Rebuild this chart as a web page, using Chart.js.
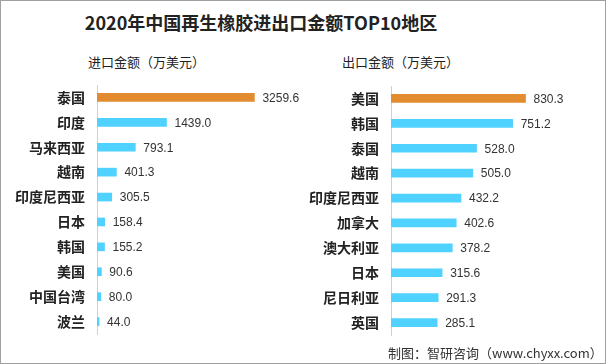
<!DOCTYPE html>
<html>
<head>
<meta charset="utf-8">
<script src="https://cdn.jsdelivr.net/npm/chart.js@4"></script>
<style>
  body { margin: 0; background: #fff; }
  #box {
    position: relative; width: 604px; height: 362px;
    border: 1px solid #a0a0a0; background: #fff; overflow: hidden;
    font-family: "Noto Sans CJK SC", "Noto Sans", sans-serif;
  }
  .txt { position: absolute; white-space: nowrap; color: #222; }
  #titulo { left: 0; width: 520px; top: 9px; text-align: center; font-size: 18px; font-weight: bold; line-height: 24px; }
  #sub1 { left: 87px; top: 51px; font-size: 13px; line-height: 20px; }
  #sub2 { left: 341px; top: 51px; font-size: 13px; line-height: 20px; }
  #fonte { left: 387px; top: 342px; font-size: 13px; line-height: 20px; color: #333; }
  canvas { position: absolute; top: 0; }
</style>
</head>
<body>
<div id="box">
  <div class="txt" id="titulo">2020年中国再生橡胶进出口金额TOP10地区</div>
  <div class="txt" id="sub1">进口金额（万美元）</div>
  <div class="txt" id="sub2">出口金额（万美元）</div>
  <div style="position:absolute;left:0;top:0;width:303px;height:362px"><canvas id="graficoImport"></canvas></div>
  <div style="position:absolute;left:302px;top:0;width:302px;height:362px"><canvas id="graficoExport"></canvas></div>
  <div class="txt" id="fonte">制图：智研咨询（www.chyxx.com）</div>
</div>
<script>
// Dados de importação (万美元)
const paisesImport = ['泰国', '印度', '马来西亚', '越南', '印度尼西亚', '日本', '韩国', '美国', '中国台湾', '波兰'];
const valoresImport = [3259.6, 1439.0, 793.1, 401.3, 305.5, 158.4, 155.2, 90.6, 80.0, 44.0];

// Dados de exportação (万美元)
const paisesExport = ['美国', '韩国', '泰国', '越南', '印度尼西亚', '加拿大', '澳大利亚', '日本', '尼日利亚', '英国'];
const valoresExport = [830.3, 751.2, 528.0, 505.0, 432.2, 402.6, 378.2, 315.6, 291.3, 285.1];

const LARANJA = '#E38B2F';
const AZUL = '#4FD2FF';

// Plugin simples para escrever o valor no fim de cada barra
const rotuloValor = {
    id: 'rotuloValor',
    afterDatasetsDraw(chart) {
        const ctx = chart.ctx;
        const meta = chart.getDatasetMeta(0);
        ctx.save();
        ctx.font = '12px "Liberation Sans", "Noto Sans", sans-serif';
        ctx.fillStyle = '#333';
        ctx.textAlign = 'left';
        ctx.textBaseline = 'middle';
        meta.data.forEach((bar, i) => {
            const v = chart.data.datasets[0].data[i];
            ctx.fillText(v.toFixed(1), bar.x + 8, bar.y + 1);
        });
        ctx.restore();
    }
};

function criarGrafico(id, labels, valores, maximo, larguraEixo, padDireita, padTopo, padBaixo) {
    const ctx = document.getElementById(id).getContext('2d');
    return new Chart(ctx, {
        type: 'bar',
        data: {
            labels: labels,
            datasets: [{
                data: valores,
                backgroundColor: valores.map((v, i) => i === 0 ? LARANJA : AZUL),
                barThickness: 8
            }]
        },
        options: {
            indexAxis: 'y',
            responsive: true,
            maintainAspectRatio: false,
            animation: false,
            layout: { padding: { left: 0, right: padDireita, top: padTopo, bottom: padBaixo } },
            plugins: { legend: { display: false }, tooltip: { enabled: false } },
            scales: {
                x: { display: false, min: 0, max: maximo },
                y: {
                    grid: { display: false, drawTicks: false },
                    border: { display: true, color: '#d0d0d0', width: 1 },
                    ticks: {
                        padding: 12,
                        color: '#222',
                        font: { family: '"Noto Sans CJK SC", sans-serif', size: 14, weight: 'bold' }
                    },
                    afterFit(scale) { scale.width = larguraEixo; }
                }
            }
        },
        plugins: [rotuloValor]
    });
}

document.addEventListener('DOMContentLoaded', function () {
    criarGrafico('graficoImport', paisesImport, valoresImport, 3500, 96, 38, 84, 29);
    criarGrafico('graficoExport', paisesExport, valoresExport, 1000, 88, 52, 85, 28);
});
</script>
</body>
</html>
